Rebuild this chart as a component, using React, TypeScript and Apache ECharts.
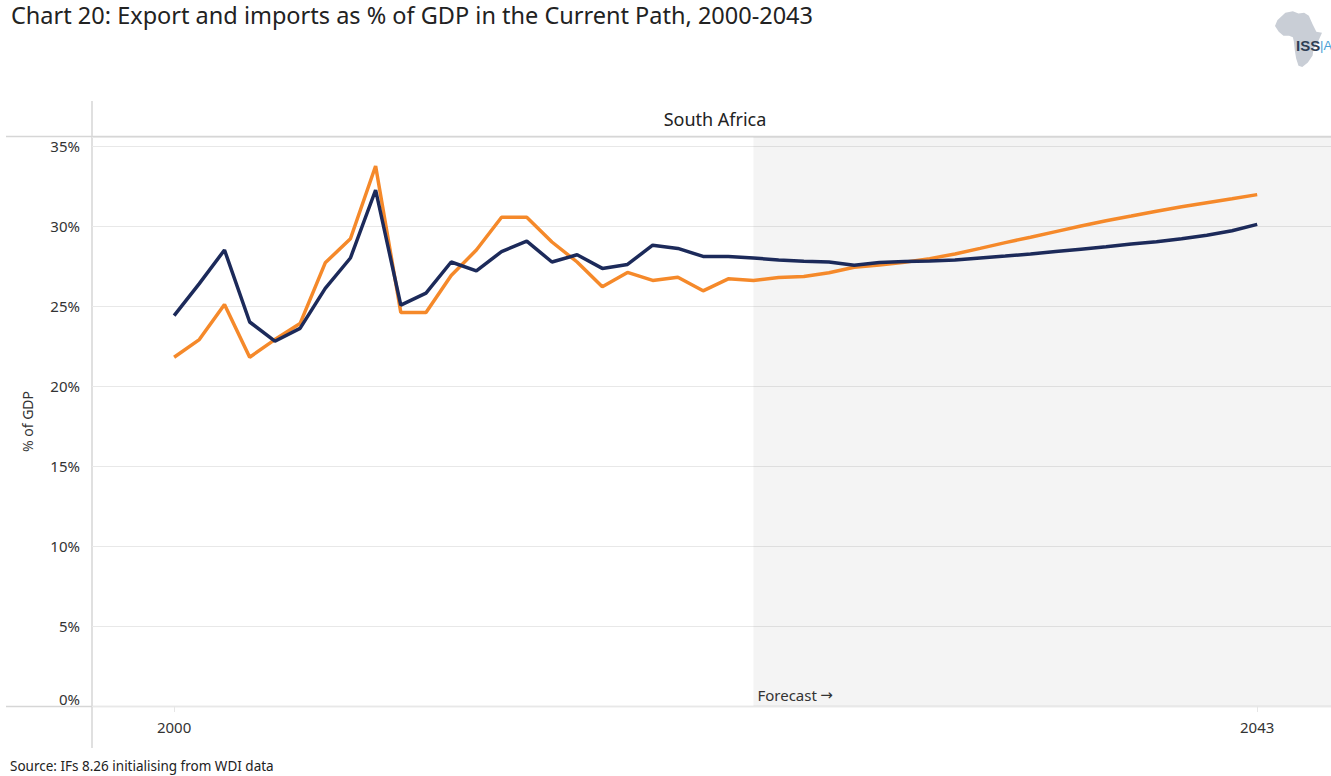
import React, { useEffect, useRef } from "react";
import * as echarts from "echarts";

const years = [
  2000, 2001, 2002, 2003, 2004, 2005, 2006, 2007, 2008, 2009, 2010,
  2011, 2012, 2013, 2014, 2015, 2016, 2017, 2018, 2019, 2020, 2021,
  2022, 2023, 2024, 2025, 2026, 2027, 2028, 2029, 2030, 2031, 2032,
  2033, 2034, 2035, 2036, 2037, 2038, 2039, 2040, 2041, 2042, 2043,
];

// Exports as % of GDP (navy)
const exportsPct = [
  24.4, 26.4, 28.5, 24.0, 22.8, 23.6, 26.1, 28.0, 32.25, 25.05, 25.8,
  27.75, 27.2, 28.4, 29.05, 27.75, 28.2, 27.35, 27.6, 28.8, 28.6, 28.1,
  28.1, 28.0, 27.88, 27.8, 27.75, 27.55, 27.72, 27.78, 27.82, 27.88, 28.0,
  28.12, 28.25, 28.4, 28.55, 28.7, 28.87, 29.02, 29.2, 29.42, 29.7, 30.1,
];

// Imports as % of GDP (orange)
const importsPct = [
  21.8, 22.9, 25.1, 21.8, 22.9, 23.9, 27.7, 29.2, 33.75, 24.6, 24.6,
  26.9, 28.5, 30.55, 30.55, 29.0, 27.75, 26.2, 27.1, 26.6, 26.8, 25.95,
  26.7, 26.6, 26.78, 26.85, 27.08, 27.42, 27.56, 27.73, 27.96, 28.25, 28.6,
  28.96, 29.3, 29.65, 30.0, 30.33, 30.62, 30.92, 31.2, 31.45, 31.7, 31.96,
];

const xLabelYears = [2000, 2043];
const forecastStartYear = 2023;
const xMin = 1996.74;
const xMax = 2045.93;
const yMin = 0;
const yMax = 35.5625;
const yStep = 5;

const NAVY = "#1c2a5a";
const ORANGE = "#f5892a";
const FONT = "'Noto Sans', sans-serif";
const TEXT = "#333333";

// Africa silhouette for the logo (normalized 0..1)
const africa = [
  [0.22, 0.05], [0.38, 0.02], [0.5, 0.06], [0.62, 0.05], [0.72, 0.1],
  [0.8, 0.25], [0.88, 0.38], [1.0, 0.4], [0.92, 0.55], [0.82, 0.68],
  [0.8, 0.8], [0.7, 0.92], [0.58, 1.0], [0.5, 0.98], [0.45, 0.85],
  [0.42, 0.7], [0.4, 0.55], [0.38, 0.48], [0.3, 0.45], [0.18, 0.45],
  [0.08, 0.38], [0.0, 0.28], [0.05, 0.18],
];

export default function App() {
  const ref = useRef<HTMLDivElement>(null);

  useEffect(() => {
    const chart = echarts.init(ref.current!, null, { renderer: "svg" });
    const lx = 1275, ly = 10, lw = 47, lh = 57;
    chart.setOption({
      animation: false,
      grid: { left: 92, right: 0, top: 137, bottom: 70, containLabel: false },
      xAxis: {
        type: "value",
        min: xMin,
        max: xMax,
        axisLine: { show: false },
        splitLine: { show: false },
        axisTick: {
          show: true,
          customValues: xLabelYears,
          length: 6,
          lineStyle: { color: "#e6e6e6" },
        },
        axisLabel: {
          customValues: xLabelYears,
          margin: 13,
          fontSize: 15,
          color: TEXT,
          fontFamily: FONT,
          formatter: (v: number) => String(Math.round(v)),
        },
      },
      yAxis: {
        type: "value",
        min: yMin,
        max: yMax,
        interval: yStep,
        name: "% of GDP",
        nameLocation: "middle",
        nameGap: 58,
        nameTextStyle: { fontSize: 14, color: TEXT, fontFamily: FONT },
        axisLine: { show: false },
        axisTick: { show: false },
        splitLine: { lineStyle: { color: "#e8e8e8", width: 1 } },
        axisLabel: {
          margin: 12,
          fontSize: 15,
          color: TEXT,
          fontFamily: FONT,
          showMaxLabel: false,
          verticalAlignMinLabel: "bottom",
          formatter: (v: number) => `${v}%`,
        },
      },
      series: [
        {
          type: "line",
          name: "Imports",
          data: years.map((y, i) => [y, importsPct[i]]),
          symbol: "none",
          lineStyle: { color: ORANGE, width: 3.5 },
          itemStyle: { color: ORANGE },
          markArea: {
            silent: true,
            itemStyle: { color: "rgba(0,0,0,0.045)" },
            label: {
              show: true,
              position: "insideBottomLeft",
              distance: 4,
              formatter: "{a|Forecast} {b|→}",
              rich: {
                a: { fontSize: 15, color: TEXT, fontFamily: FONT },
                b: { fontSize: 15, color: TEXT, fontFamily: "'DejaVu Sans', sans-serif" },
              },
            },
            data: [[{ xAxis: forecastStartYear }, { xAxis: xMax }]],
          },
        },
        {
          type: "line",
          name: "Exports",
          data: years.map((y, i) => [y, exportsPct[i]]),
          symbol: "none",
          lineStyle: { color: NAVY, width: 3.5 },
          itemStyle: { color: NAVY },
        },
      ],
      graphic: [
        {
          type: "text",
          left: 11,
          top: 3,
          style: {
            text: "Chart 20: Export and imports as % of GDP in the Current Path, 2000-2043",
            fontSize: 23.5,
            fontFamily: FONT,
            fill: "#222222",
          },
        },
        {
          type: "text",
          x: 715,
          y: 119,
          style: {
            text: "South Africa",
            fontSize: 18,
            fontFamily: FONT,
            fill: "#222222",
            align: "center",
            verticalAlign: "middle",
          },
        },
        {
          type: "line",
          shape: { x1: 6, y1: 136.5, x2: 1331, y2: 136.5 },
          style: { stroke: "#d6d6d6", lineWidth: 1.5 },
        },
        {
          type: "line",
          shape: { x1: 6, y1: 706.5, x2: 1331, y2: 706.5 },
          style: { stroke: "#d6d6d6", lineWidth: 1.5 },
        },
        {
          type: "line",
          shape: { x1: 92, y1: 101, x2: 92, y2: 748 },
          style: { stroke: "#d6d6d6", lineWidth: 1.5 },
        },
        {
          type: "text",
          x: 10,
          y: 766,
          style: {
            text: "Source: IFs 8.26 initialising from WDI data",
            fontSize: 13.5,
            fontFamily: FONT,
            fill: "#222222",
            verticalAlign: "middle",
          },
        },
        {
          type: "polygon",
          shape: { points: africa.map(([px, py]) => [lx + px * lw, ly + py * lh]) },
          style: { fill: "#c9ced6" },
        },
        {
          type: "text",
          x: 1296,
          y: 45,
          style: {
            text: "ISS",
            fontSize: 15,
            fontWeight: "bold",
            fontFamily: "'Liberation Sans Narrow', 'Liberation Sans', sans-serif",
            fill: "#2f3f55",
            verticalAlign: "middle",
          },
        },
        {
          type: "text",
          x: 1320,
          y: 45,
          style: {
            text: "|A",
            fontSize: 13,
            fontFamily: "'Liberation Sans', sans-serif",
            fill: "#4aa0d5",
            verticalAlign: "middle",
          },
        },
      ],
    });
    return () => chart.dispose();
  }, []);

  return (
    <div
      ref={ref}
      style={{ position: "absolute", left: 0, top: 0, width: 1331, height: 776, background: "#ffffff" }}
    />
  );
}
